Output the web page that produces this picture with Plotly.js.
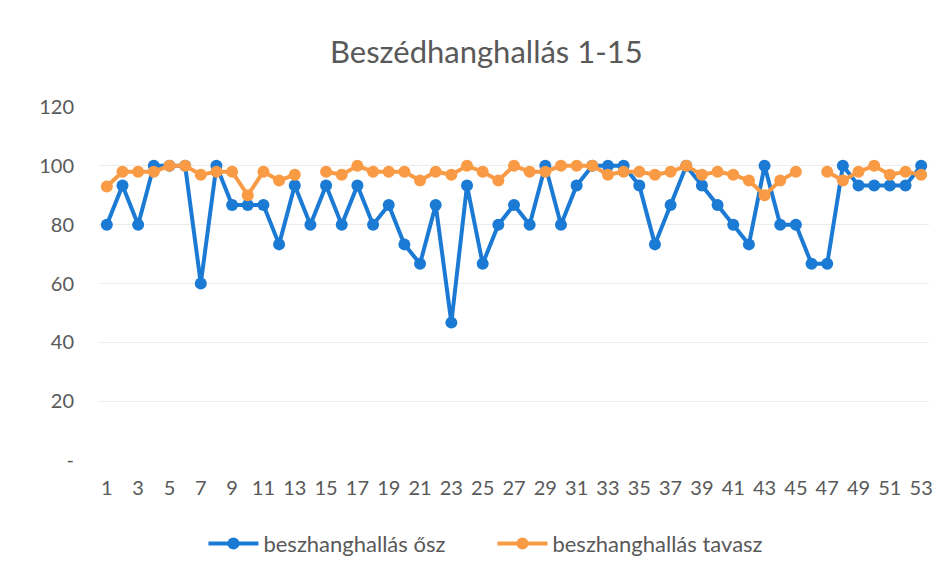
<!DOCTYPE html>
<html>
<head>
<meta charset="utf-8">
<script src="https://cdn.plot.ly/plotly-3.0.1.min.js"></script>
<style>html,body{margin:0;padding:0;background:#fff;}#chart{width:948px;height:577px;}</style>
</head>
<body>
<div id="chart"></div>
<script>
const categories = Array.from({length: 53}, (_, i) => i + 1);
const oszValues = [80, 93.3, 80, 100, 100, 100, 60, 100, 86.7, 86.7,
  86.7, 73.3, 93.3, 80, 93.3, 80, 93.3, 80, 86.7, 73.3,
  66.7, 86.7, 46.7, 93.3, 66.7, 80, 86.7, 80, 100, 80,
  93.3, 100, 100, 100, 93.3, 73.3, 86.7, 100, 93.3, 86.7,
  80, 73.3, 100, 80, 80, 66.7, 66.7, 100, 93.3, 93.3,
  93.3, 93.3, 100];
const tavaszValues = [93, 98, 98, 98, 100, 100, 97, 98, 98, 90,
  98, 95, 97, null, 98, 97, 100, 98, 98, 98,
  95, 98, 97, 100, 98, 95, 100, 98, 98, 100,
  100, 100, 97, 98, 98, 97, 98, 100, 97, 98,
  97, 95, 90, 95, 98, null, 98, 95, 98, 100,
  97, 98, 97];
const seriesNames = ['beszhanghallás ősz', 'beszhanghallás tavasz'];
const yTickVals = [0, 20, 40, 60, 80, 100, 120];
const yTickText = ['-', '20', '40', '60', '80', '100', '120'];
const xTickVals = categories.filter(c => c % 2 === 1);

const FONT = 'Lato, "Open Sans", sans-serif';
const TXT = '#595959';

const traces = [
  {x: categories, y: oszValues, name: seriesNames[0], type: 'scatter', mode: 'lines+markers',
   line: {color: '#1a7ad4', width: 4}, marker: {color: '#1a7ad4', size: 12}, connectgaps: false},
  {x: categories, y: tavaszValues, name: seriesNames[1], type: 'scatter', mode: 'lines+markers',
   line: {color: '#f99b45', width: 4}, marker: {color: '#f99b45', size: 12}, connectgaps: false}
];

const layout = {
  width: 948, height: 577,
  margin: {l: 99, r: 19, t: 107, b: 115},
  paper_bgcolor: '#ffffff', plot_bgcolor: '#ffffff',
  font: {family: FONT, color: TXT, size: 20},
  title: {text: 'Beszédhanghallás 1-15', font: {family: FONT, size: 31, color: TXT},
          x: 0.513, xanchor: 'center', y: 0.91, yanchor: 'middle'},
  xaxis: {range: [0.5, 53.5], tickvals: xTickVals, ticktext: xTickVals.map(String),
          showgrid: false, zeroline: false, showline: false, ticks: '', ticklabelstandoff: 14,
          tickfont: {family: FONT, size: 20, color: TXT}, fixedrange: true},
  yaxis: {range: [0, 120], tickvals: yTickVals, ticktext: yTickText,
          showgrid: true, gridcolor: '#ececec', gridwidth: 1, zeroline: false, showline: false,
          ticks: '', ticklen: 0, ticklabelstandoff: 24,
          tickfont: {family: FONT, size: 20, color: TXT}, fixedrange: true},
  legend: {orientation: 'h', x: 0.474, xanchor: 'center', y: -0.237, yanchor: 'middle',
           font: {family: FONT, size: 22, color: TXT}, itemwidth: 50,
           entrywidth: 224, entrywidthmode: 'pixels'},
  showlegend: true
};

Plotly.newPlot('chart', traces, layout, {displayModeBar: false, staticPlot: true});
</script>
</body>
</html>
